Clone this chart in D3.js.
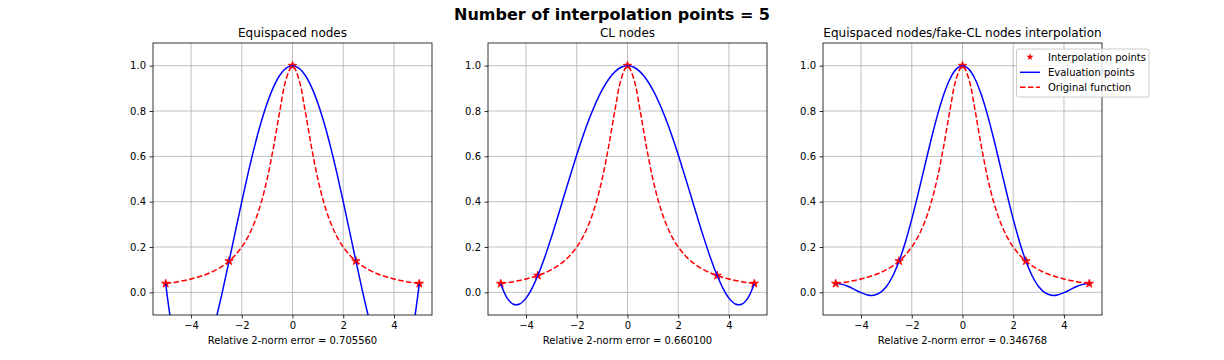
<!DOCTYPE html>
<html><head><meta charset="utf-8">
<script src="https://cdn.jsdelivr.net/npm/d3@7"></script>
<style>body{margin:0;background:#fff}svg{display:block}text{font-family:"DejaVu Sans",sans-serif}</style>
</head><body>
<script>
const xs = [-5,-4.75,-4.5,-4.25,-4,-3.75,-3.5,-3.25,-3,-2.75,-2.5,-2.25,-2,-1.75,-1.5,-1.25,-1,-0.75,-0.5,-0.25,0,0.25,0.5,0.75,1,1.25,1.5,1.75,2,2.25,2.5,2.75,3,3.25,3.5,3.75,4,4.25,4.5,4.75,5];
const original = [0.03846,0.04244,0.04706,0.05246,0.05882,0.06639,0.07547,0.08649,0.1,0.11679,0.13793,0.16495,0.2,0.24615,0.30769,0.39024,0.5,0.64,0.8,0.94118,1,0.94118,0.8,0.64,0.5,0.39024,0.30769,0.24615,0.2,0.16495,0.13793,0.11679,0.1,0.08649,0.07547,0.06639,0.05882,0.05246,0.04706,0.04244,0.03846];
const evalEqui = [0.03846,-0.15953,-0.28912,-0.35950,-0.37931,-0.35685,-0.29974,-0.21525,-0.11008,0.00955,0.13793,0.26983,0.40053,0.52580,0.64191,0.74563,0.83422,0.90544,0.95756,0.98933,1,0.98933,0.95756,0.90544,0.83422,0.74563,0.64191,0.52580,0.40053,0.26983,0.13793,0.00955,-0.11008,-0.21525,-0.29974,-0.35685,-0.37931,-0.35950,-0.28912,-0.15953,0.03846];
const evalCL = [0.03846,-0.02447,-0.05289,-0.05172,-0.02564,0.02093,0.08387,0.15929,0.24359,0.33343,0.42575,0.51773,0.60684,0.69081,0.76763,0.83557,0.89316,0.93920,0.97276,0.99316,1,0.99316,0.97276,0.93920,0.89316,0.83557,0.76763,0.69081,0.60684,0.51773,0.42575,0.33343,0.24359,0.15929,0.08387,0.02093,-0.02564,-0.05172,-0.05289,-0.02447,0.03846];
const evalFake = [0.03846,0.03507,0.02560,0.01227,-0.00145,-0.01137,-0.01292,-0.00174,0.02580,0.07205,0.13793,0.22247,0.32291,0.43478,0.55226,0.66854,0.77644,0.86901,0.94006,0.98475,1,0.98475,0.94006,0.86901,0.77644,0.66854,0.55226,0.43478,0.32291,0.22247,0.13793,0.07205,0.02580,-0.00174,-0.01292,-0.01137,-0.00145,0.01227,0.02560,0.03507,0.03846];
const nodesEquiX = [-5,-2.5,0,2.5,5];
const nodesEquiY = [0.03846,0.13793,1,0.13793,0.03846];
const nodesCLX = [-5,-3.5355,0,3.5355,5];
const nodesCLY = [0.03846,0.07407,1,0.07407,0.03846];
const titles = ["Equispaced nodes","CL nodes","Equispaced nodes/fake-CL nodes interpolation"];
const errors = ["0.705560","0.660100","0.346768"];
const xTicks = [-4,-2,0,2,4];
const yTicks = [0.0,0.2,0.4,0.6,0.8,1.0];
const legendLabels = ["Interpolation points","Evaluation points","Original function"];
const suptitle = "Number of interpolation points = 5";

const panels = [
  {title:titles[0], err:errors[0], evalY:evalEqui, nx:nodesEquiX, ny:nodesEquiY, left:153},
  {title:titles[1], err:errors[1], evalY:evalCL, nx:nodesCLX, ny:nodesCLY, left:488},
  {title:titles[2], err:errors[2], evalY:evalFake, nx:nodesEquiX, ny:nodesEquiY, left:823}
];

const W=1224,H=360, pw=279, topY=43, ph=272;
const svg=d3.select("body").append("svg").attr("width",W).attr("height",H);
svg.append("text").attr("x",612).attr("y",20).attr("text-anchor","middle")
  .attr("font-size",16).attr("font-weight","bold").text(suptitle);

const star=d3.symbol().type(d3.symbolStar).size(22);
const starSmall=d3.symbol().type(d3.symbolStar).size(16);

panels.forEach((p,i)=>{
  const x=d3.scaleLinear().domain([-5.5,5.5]).range([0,pw]);
  const y=d3.scaleLinear().domain([-0.1,1.1]).range([ph,0]);
  const g=svg.append("g").attr("transform",`translate(${p.left},${topY})`);
  g.append("g").selectAll("line").data(xTicks).join("line")
    .attr("x1",d=>x(d)).attr("x2",d=>x(d)).attr("y1",0).attr("y2",ph)
    .attr("stroke","#b0b0b0").attr("stroke-width",0.8);
  g.append("g").selectAll("line").data(yTicks).join("line")
    .attr("y1",d=>y(d)).attr("y2",d=>y(d)).attr("x1",0).attr("x2",pw)
    .attr("stroke","#b0b0b0").attr("stroke-width",0.8);
  const cid="clip"+i;
  g.append("clipPath").attr("id",cid).append("rect").attr("width",pw).attr("height",ph);
  const line=d3.line().x((d,j)=>x(xs[j])).y(d=>y(d)).curve(d3.curveCatmullRom.alpha(0.5));
  g.selectAll(".st").data(p.nx).join("path").attr("d",star)
    .attr("transform",(d,j)=>`translate(${x(d)},${y(p.ny[j])})`).attr("fill","#ff0000").attr("stroke","#ff0000").attr("stroke-width",0.8);
  const cg=g.append("g").attr("clip-path",`url(#${cid})`);
  cg.append("path").attr("d",line(p.evalY)).attr("fill","none").attr("stroke","#0000ff").attr("stroke-width",1.5);
  cg.append("path").attr("d",line(original)).attr("fill","none").attr("stroke","#ff0000").attr("stroke-width",1.5).attr("stroke-dasharray","5.55,2.4");
  const ax=g.append("g").attr("transform",`translate(0,${ph})`).call(d3.axisBottom(x).tickValues(xTicks).tickSize(3.5).tickPadding(3.5).tickFormat(d=>d<0?"\u2212"+Math.abs(d):d));
  const ay=g.append("g").call(d3.axisLeft(y).tickValues(yTicks).tickSize(3.5).tickPadding(3.5).tickFormat(d3.format(".1f")));
  [ax,ay].forEach(a=>{a.select(".domain").remove();a.selectAll("text").attr("font-size",10).attr("fill","#000").style("font-family","DejaVu Sans");a.selectAll("line").attr("stroke","#000").attr("stroke-width",0.8);});
  g.append("rect").attr("width",pw).attr("height",ph).attr("fill","none").attr("stroke","#000").attr("stroke-width",0.8);
  g.append("text").attr("x",pw/2).attr("y",-6).attr("text-anchor","middle").attr("font-size",12).text(p.title);
  g.append("text").attr("x",pw/2).attr("y",ph+29).attr("text-anchor","middle").attr("font-size",10).text("Relative 2-norm error = "+p.err);
});

const lg=svg.append("g").attr("transform","translate(1016.5,49)");
lg.append("rect").attr("width",132.5).attr("height",48).attr("rx",2).attr("fill","#fff").attr("fill-opacity",0.8).attr("stroke","#cccccc").attr("stroke-width",1);
const ly=[8,23.3,38.3];
lg.append("path").attr("d",starSmall).attr("transform",`translate(${13.5},${ly[0]})`).attr("fill","#ff0000");
lg.append("line").attr("x1",3.5).attr("x2",23.5).attr("y1",ly[1]).attr("y2",ly[1]).attr("stroke","#0000ff").attr("stroke-width",1.5);
lg.append("line").attr("x1",3.5).attr("x2",23.5).attr("y1",ly[2]).attr("y2",ly[2]).attr("stroke","#ff0000").attr("stroke-width",1.5).attr("stroke-dasharray","5.55,2.4");
legendLabels.forEach((t,k)=>lg.append("text").attr("x",31.5).attr("y",ly[k]+3.6).attr("font-size",10).text(t));
</script>
</body></html>
